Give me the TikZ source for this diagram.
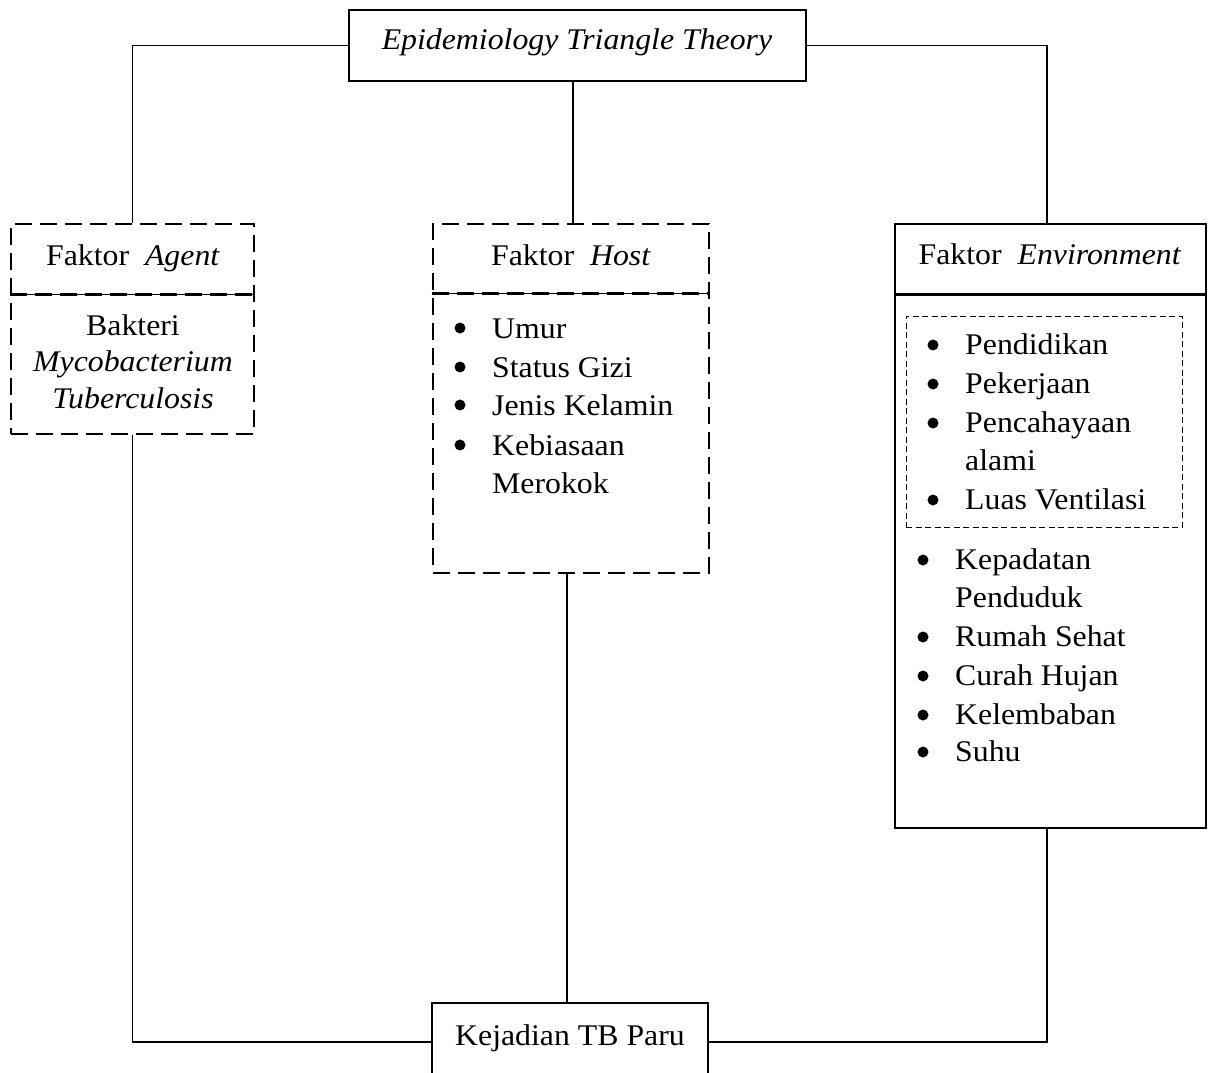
\documentclass[tikz,border=0pt]{standalone}
\usepackage{fontspec}
\setmainfont{Liberation Serif}[FakeStretch=1.06]
\begin{document}
\begin{tikzpicture}[x=1pt,y=-1pt,
  solidbox/.style={draw,line width=2.8pt,inner sep=0pt},
  dashbox/.style={draw,line width=2.8pt,inner sep=0pt,dash pattern=on 17pt off 8pt},
  thinbox/.style={draw,line width=1pt,inner sep=0pt,dash pattern=on 6pt off 3.5pt},
  dashline/.style={line width=2.8pt,dash pattern=on 17pt off 8pt},
  hair/.style={line width=0.7pt},
  conn/.style={line width=1.1pt},
  txt/.style={anchor=base,inner sep=0pt,font=\fontsize{30}{39}\selectfont},
  ltxt/.style={txt,anchor=base west},
  bul/.style={circle,fill,inner sep=0pt,minimum size=11pt}
]
\useasboundingbox (0,0) rectangle (1211,1073);
\clip (0,0) rectangle (1211,1073);

% boxes
\node[solidbox,minimum width=457pt,minimum height=71pt] (top) at (577.5,45.5) {};
\node[dashbox,minimum width=243pt,minimum height=210pt] (agent) at (132.5,329) {};
\node[dashbox,minimum width=276pt,minimum height=349pt] (host) at (571,398.5) {};
\node[solidbox,minimum width=311pt,minimum height=604pt] (env) at (1050.5,526) {};
\node[thinbox,minimum width=276pt,minimum height=211pt] (envin) at (1044,421.5) {};
\node[solidbox,minimum width=276pt,minimum height=78pt] (bottom) at (570,1042) {};

% dividers
\draw[hair] ([yshift=-72pt]agent.north west) -- ([yshift=-72pt]agent.north east);
\draw[dashline] ([yshift=-72pt]agent.north west) -- ([yshift=-72pt]agent.north east);
\draw[hair] ([yshift=-71pt]host.north west) -- ([yshift=-71pt]host.north east);
\draw[dashline] ([yshift=-71pt]host.north west) -- ([yshift=-71pt]host.north east);
\draw[line width=2.8pt] ([yshift=-72pt]env.north west) -- ([yshift=-72pt]env.north east);

% connectors
\draw[conn] (top.west) -| (agent.north);
\draw[conn] (top.east) -| ([xshift=-3.5pt]env.north);
\draw[conn] ([xshift=2pt]host.north |- top.south) -- ([xshift=2pt]host.north);
\draw[conn] ([xshift=-4pt]host.south) -- ([xshift=-4pt]host.south |- bottom.north);
\draw[conn] (agent.south) |- (bottom.west);
\draw[conn] ([xshift=-3.5pt]env.south) |- (bottom.east);

% texts
\node[txt] (title) at (577,50) {\textit{Epidemiology Triangle Theory}};
\node[txt] (agentt) at (133,265) {Faktor\ \ \textit{Agent}};
\node[txt] (agent1) at (133,335) {Bakteri};
\node[txt] (agent2) at (133,371) {\textit{Mycobacterium}};
\node[txt] (agent3) at (133,408) {\textit{Tuberculosis}};

\node[txt] (hostt) at (571,265) {Faktor\ \ \textit{Host}};
\node[bul] (hb1) at (460,328) {};
\node[ltxt] (h1) at (492,338) {Umur};
\node[bul] (hb2) at (460,367) {};
\node[ltxt] (h2) at (492,377) {Status Gizi};
\node[bul] (hb3) at (460,405) {};
\node[ltxt] (h3) at (492,415) {Jenis Kelamin};
\node[bul] (hb4) at (460,445) {};
\node[ltxt] (h4) at (492,455) {Kebiasaan};
\node[ltxt] (h5) at (492,493) {Merokok};

\node[txt] (envt) at (1050,264) {Faktor\ \ \textit{Environment}};
\node[bul] (eb1) at (933,345) {};
\node[ltxt] (e1) at (965,354) {Pendidikan};
\node[bul] (eb2) at (933,384) {};
\node[ltxt] (e2) at (965,393) {Pekerjaan};
\node[bul] (eb3) at (933,423) {};
\node[ltxt] (e3) at (965,432) {Pencahayaan};
\node[ltxt] (e4) at (965,470) {alami};
\node[bul] (eb5) at (933,500) {};
\node[ltxt] (e5) at (965,509) {Luas Ventilasi};

\node[bul] (ob1) at (923,560) {};
\node[ltxt] (o1) at (955,569) {Kepadatan};
\node[ltxt] (o2) at (955,607) {Penduduk};
\node[bul] (ob3) at (923,637) {};
\node[ltxt] (o3) at (955,646) {Rumah Sehat};
\node[bul] (ob4) at (923,676) {};
\node[ltxt] (o4) at (955,685) {Curah Hujan};
\node[bul] (ob5) at (923,715) {};
\node[ltxt] (o5) at (955,724) {Kelembaban};
\node[bul] (ob6) at (923,752) {};
\node[ltxt] (o6) at (955,761) {Suhu};

\node[txt] (bottomt) at (570,1045) {Kejadian TB Paru};
\end{tikzpicture}
\end{document}
